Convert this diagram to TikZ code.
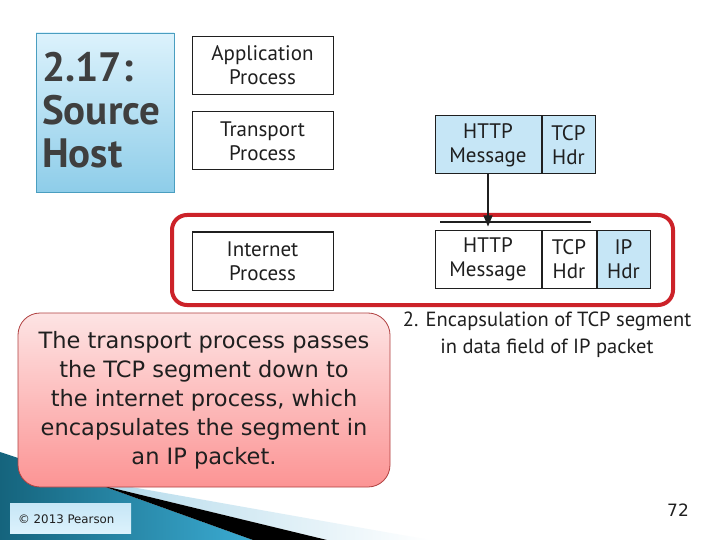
\documentclass[tikz,border=0pt]{standalone}
\usepackage{fontspec}
\setmainfont{DejaVu Sans}
\newfontfamily\ptsans{PT Sans}
\usetikzlibrary{arrows.meta,positioning}
\definecolor{pktInk}{HTML}{1F1F1F}
\definecolor{pktCell}{HTML}{C6E6F6}
\definecolor{pktRed}{HTML}{CC2229}
\definecolor{pktTitleTop}{HTML}{DCF2FC}
\definecolor{pktTitleBot}{HTML}{8ECDE9}
\definecolor{pktTitleEdge}{HTML}{4A9EC0}
\definecolor{pktPinkTop}{HTML}{FDE4E4}
\definecolor{pktPinkBot}{HTML}{FC9494}
\definecolor{pktPinkEdge}{HTML}{B04040}
\definecolor{pktTealDark}{HTML}{15647D}
\definecolor{pktTealLight}{HTML}{3BABD2}
\definecolor{pktPale}{HTML}{B3DAEB}
\definecolor{pktGrayText}{HTML}{3F3F3F}
\tikzset{
  every picture/.style={text=pktInk},
  proc box/.style={draw=pktInk, line width=1pt, fill=white, align=center,
    minimum width=141pt, minimum height=58pt, inner sep=0pt,
    font=\ptsans\fontsize{21}{24}\selectfont},
  pkt cell/.style={draw=pktInk, line width=1pt, fill=white, align=center,
    minimum height=58pt, inner sep=0pt,
    font=\ptsans\fontsize{21}{24}\selectfont},
  hdr cell/.style={pkt cell, fill=pktCell},
  red frame/.style={draw=pktRed, line width=4pt, rounded corners=15pt},
  pkt arrow/.style={-{Triangle[length=11pt,width=9pt]}, draw=pktInk,
    line width=1.3pt},
  bar line/.style={draw=pktInk, line width=2pt}
}
\begin{document}
\begin{tikzpicture}[x=1pt,y=-1pt]
  \useasboundingbox[fill=white] (0,0) rectangle (720,540);
  % corner decoration
  \shade[left color=pktTealDark, right color=pktTealLight]
    (0,452) -- (100,485) -- (253,540) -- (0,540) -- cycle;
  \shade[left color=pktPale, right color=white]
    (120,485) -- (430,540) -- (327,540) -- (100,485) -- cycle;
  \fill[black] (100,485) -- (327,540) -- (253,540) -- cycle;
  % title
  \node[draw=pktTitleEdge, line width=0.8pt, top color=pktTitleTop,
    bottom color=pktTitleBot, minimum width=138pt, minimum height=159pt,
    inner sep=0pt] (title) at (105,112.5) {};
  \node[align=left, inner sep=0pt, text=pktGrayText,
    font=\ptsans\bfseries\fontsize{41}{43}\selectfont, anchor=west]
    (titletext) at (42,110) {2.17:\\Source\\Host};
  % processes
  \node[proc box] (app) at (262.5,65.5) {Application\\Process};
  \node[proc box] (trans) at (262.5,141) {Transport\\Process};
  \node[proc box] (inet) at (262.5,261) {Internet\\Process};
  % TCP segment
  \node[hdr cell, minimum width=106pt] (httpA) at (488,145) {HTTP\\Message};
  \node[hdr cell, minimum width=53pt, right=0pt of httpA] (tcpA) {TCP\\Hdr};
  % IP packet
  \node[pkt cell, minimum width=106pt] (httpB) at (488,259.5) {HTTP\\Message};
  \node[pkt cell, minimum width=54pt, right=0pt of httpB] (tcpB) {TCP\\Hdr};
  \node[hdr cell, minimum width=53pt, right=0pt of tcpB] (ipB) {IP\\Hdr};
  \node[red frame, minimum width=501pt, minimum height=90pt] (layer) at (422.5,260) {};
  \coordinate (barL) at (440,222);
  \coordinate (barR) at (591,222);
  \coordinate (tipEnd) at (488,226.5);
  \draw[bar line] (barL) -- (barR);
  \draw[pkt arrow] (httpA.south) -- (tipEnd);
  \node[align=center, font=\ptsans\fontsize{20.5}{27}\selectfont]
    (caption) at (547,335) {2. Encapsulation of TCP segment\\in data field of IP packet};
  % note
  \node[draw=pktPinkEdge, line width=0.8pt, rounded corners=22pt,
    top color=pktPinkTop, bottom color=pktPinkBot, minimum width=372pt,
    minimum height=174pt, align=center, font=\fontsize{22.5}{29}\selectfont]
    (note) at (204,400) {The transport process passes\\the TCP segment down to\\the internet process, which\\encapsulates the segment in\\an IP packet.};
  % footer
  \node[top color=pktCell, bottom color=pktTitleTop, minimum width=121pt,
    minimum height=30pt, inner sep=0pt] (copy) at (70.5,518) {};
  \node[font=\fontsize{11.8}{14}\selectfont, anchor=west, inner sep=0pt]
    (copytext) at (18,519) {© 2013 Pearson};
  \node[font=\fontsize{17}{20}\selectfont] (page) at (678,510) {72};
\end{tikzpicture}
\end{document}
